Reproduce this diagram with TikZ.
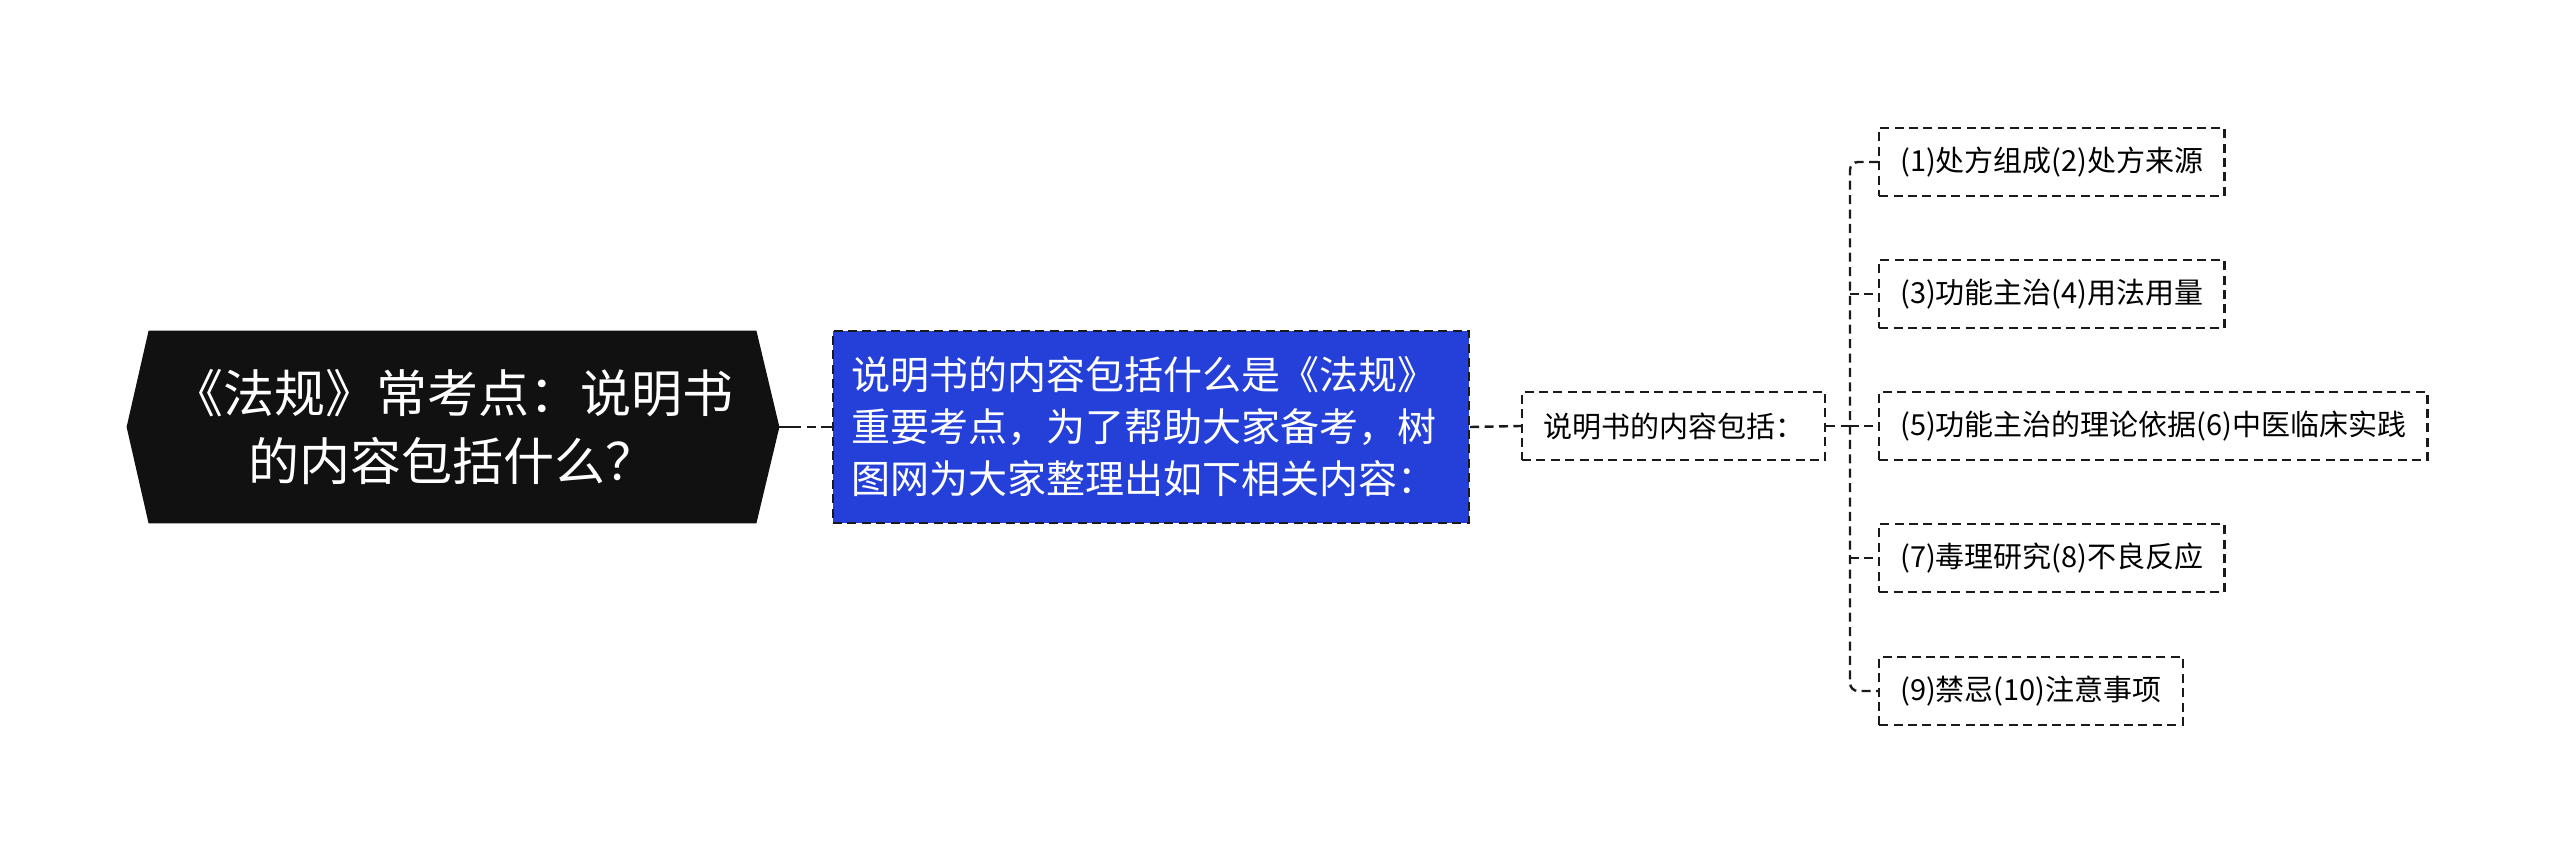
\documentclass[tikz,border=0pt]{standalone}
\usepackage{fontspec}
\setmainfont{Noto Sans CJK SC}
\usepackage{xcolor}
\usetikzlibrary{calc,backgrounds}
\definecolor{rootblack}{HTML}{111111}
\definecolor{topicblue}{HTML}{2440D8}
\definecolor{lineblack}{HTML}{1A1A1A}

\begin{document}
\begin{tikzpicture}[x=0.5pt, y=-0.5pt,
  link/.style={draw=lineblack, line width=1.2pt, dash pattern=on 4.5pt off 2.7pt},
  rootbox/.style={inner sep=0pt, minimum width=303.5pt, minimum height=96pt,
    align=center, text=white, font=\fontsize{25.5pt}{34pt}\selectfont},
  bluebox/.style={link, fill=topicblue, text=white, align=left, inner xsep=9pt,
    text width=300pt, minimum height=96pt, font=\fontsize{19.5pt}{26pt}\selectfont},
  leafbox/.style={link, inner xsep=10.5pt, minimum height=34pt,
    font=\fontsize{14.5pt}{17pt}\selectfont}
]
  \useasboundingbox (0,0) rectangle (2560,854);

  % Define the root, the blue topic and the middle node
  \node[rootbox] (root) at (452.5,427) {《法规》常考点：说明书\\的内容包括什么？};
  \node[bluebox] (blue) at (1151,427) {说明书的内容包括什么是《法规》\\重要考点，为了帮助大家备考，树\\图网为大家整理出如下相关内容：};
  \node[leafbox] (mid) at (1673.5,426) {说明书的内容包括：};

  % Define the leaves
  \node[leafbox, anchor=west] (l1) at (1878,162) {(1)处方组成(2)处方来源};
  \node[leafbox, anchor=west] (l2) at (1878,294) {(3)功能主治(4)用法用量};
  \node[leafbox, anchor=west] (l3) at (1878,426) {(5)功能主治的理论依据(6)中医临床实践};
  \node[leafbox, anchor=west] (l4) at (1878,558) {(7)毒理研究(8)不良反应};
  \node[leafbox, anchor=west] (l5) at (1878,691) {(9)禁忌(10)注意事项};

  % Root shape, pointed at both ends
  \coordinate (roottip) at ($(root.east)+(23,0)$);
  \begin{scope}[on background layer]
    \fill[rootblack] ($(root.west)+(-22,0)$) -- (root.north west) -- (root.north east)
      -- (roottip) -- (root.south east) -- (root.south west) -- cycle;
  \end{scope}

  % Draw the edges
  \coordinate (trunk) at (1850,426);
  \draw[link, dash pattern=on 11pt off 2.7pt on 4.5pt off 2.7pt] (roottip) -- (blue.west);
  \draw[link] (blue.east) -- (mid.west);
  \draw[link] (mid.east) -- (trunk);
  \draw[link, rounded corners=4pt] (l1.west) -- (trunk |- l1.west) -- (trunk |- l5.west) -- (l5.west);
  \draw[link] (trunk |- l2.west) -- (l2.west);
  \draw[link] (trunk |- l3.west) -- (l3.west);
  \draw[link] (trunk |- l4.west) -- (l4.west);
\end{tikzpicture}
\end{document}
